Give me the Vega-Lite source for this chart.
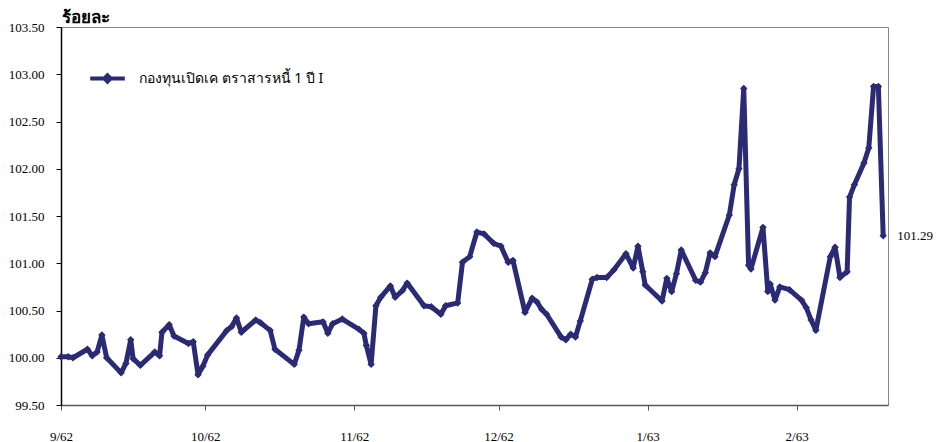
{
  "$schema": "https://vega.github.io/schema/vega-lite/v6.json",
  "width": 827,
  "height": 378,
  "autosize": {"type": "none"},
  "padding": {"left": 61, "top": 27, "right": 55, "bottom": 37},
  "background": "white",
  "data": {
    "values": [
      {"date": "2019-09-01T00:00", "nav": 100.01},
      {"date": "2019-09-02T12:00", "nav": 100.01},
      {"date": "2019-09-03T12:00", "nav": 100.00},
      {"date": "2019-09-06T12:00", "nav": 100.09},
      {"date": "2019-09-07T12:00", "nav": 100.02},
      {"date": "2019-09-08T12:00", "nav": 100.06},
      {"date": "2019-09-09T12:00", "nav": 100.24},
      {"date": "2019-09-10T12:00", "nav": 100.00},
      {"date": "2019-09-13T12:00", "nav": 99.84},
      {"date": "2019-09-14T12:00", "nav": 99.94},
      {"date": "2019-09-15T12:00", "nav": 100.19},
      {"date": "2019-09-16T00:00", "nav": 99.99},
      {"date": "2019-09-17T12:00", "nav": 99.92},
      {"date": "2019-09-20T12:00", "nav": 100.06},
      {"date": "2019-09-21T12:00", "nav": 100.02},
      {"date": "2019-09-22T00:00", "nav": 100.27},
      {"date": "2019-09-23T12:00", "nav": 100.35},
      {"date": "2019-09-24T12:00", "nav": 100.23},
      {"date": "2019-09-27T12:00", "nav": 100.15},
      {"date": "2019-09-28T12:00", "nav": 100.17},
      {"date": "2019-09-29T12:00", "nav": 99.82},
      {"date": "2019-09-30T12:00", "nav": 99.91},
      {"date": "2019-10-01T12:00", "nav": 100.03},
      {"date": "2019-10-05T12:00", "nav": 100.29},
      {"date": "2019-10-06T12:00", "nav": 100.33},
      {"date": "2019-10-07T12:00", "nav": 100.42},
      {"date": "2019-10-08T12:00", "nav": 100.27},
      {"date": "2019-10-11T12:00", "nav": 100.40},
      {"date": "2019-10-12T12:00", "nav": 100.37},
      {"date": "2019-10-14T12:00", "nav": 100.29},
      {"date": "2019-10-15T12:00", "nav": 100.09},
      {"date": "2019-10-19T12:00", "nav": 99.93},
      {"date": "2019-10-20T12:00", "nav": 100.08},
      {"date": "2019-10-21T12:00", "nav": 100.43},
      {"date": "2019-10-22T12:00", "nav": 100.36},
      {"date": "2019-10-25T12:00", "nav": 100.38},
      {"date": "2019-10-26T12:00", "nav": 100.26},
      {"date": "2019-10-27T12:00", "nav": 100.36},
      {"date": "2019-10-29T12:00", "nav": 100.41},
      {"date": "2019-11-02T00:00", "nav": 100.30},
      {"date": "2019-11-03T00:00", "nav": 100.26},
      {"date": "2019-11-03T12:00", "nav": 100.13},
      {"date": "2019-11-04T12:00", "nav": 99.93},
      {"date": "2019-11-05T12:00", "nav": 100.55},
      {"date": "2019-11-06T12:00", "nav": 100.64},
      {"date": "2019-11-08T12:00", "nav": 100.76},
      {"date": "2019-11-09T12:00", "nav": 100.64},
      {"date": "2019-11-11T00:00", "nav": 100.71},
      {"date": "2019-11-12T00:00", "nav": 100.79},
      {"date": "2019-11-15T12:00", "nav": 100.55},
      {"date": "2019-11-17T00:00", "nav": 100.54},
      {"date": "2019-11-19T00:00", "nav": 100.46},
      {"date": "2019-11-20T00:00", "nav": 100.55},
      {"date": "2019-11-22T12:00", "nav": 100.58},
      {"date": "2019-11-23T12:00", "nav": 101.01},
      {"date": "2019-11-25T00:00", "nav": 101.07},
      {"date": "2019-11-26T12:00", "nav": 101.33},
      {"date": "2019-11-28T00:00", "nav": 101.31},
      {"date": "2019-11-30T00:00", "nav": 101.21},
      {"date": "2019-12-01T12:00", "nav": 101.18},
      {"date": "2019-12-03T00:00", "nav": 101.01},
      {"date": "2019-12-04T00:00", "nav": 101.03},
      {"date": "2019-12-06T12:00", "nav": 100.48},
      {"date": "2019-12-08T00:00", "nav": 100.63},
      {"date": "2019-12-09T00:00", "nav": 100.59},
      {"date": "2019-12-10T00:00", "nav": 100.51},
      {"date": "2019-12-11T00:00", "nav": 100.46},
      {"date": "2019-12-14T00:00", "nav": 100.22},
      {"date": "2019-12-15T00:00", "nav": 100.19},
      {"date": "2019-12-16T00:00", "nav": 100.25},
      {"date": "2019-12-17T00:00", "nav": 100.22},
      {"date": "2019-12-18T00:00", "nav": 100.39},
      {"date": "2019-12-20T12:00", "nav": 100.83},
      {"date": "2019-12-21T12:00", "nav": 100.85},
      {"date": "2019-12-23T12:00", "nav": 100.85},
      {"date": "2019-12-25T00:00", "nav": 100.93},
      {"date": "2019-12-27T12:00", "nav": 101.10},
      {"date": "2019-12-29T00:00", "nav": 100.95},
      {"date": "2019-12-30T00:00", "nav": 101.18},
      {"date": "2019-12-31T00:00", "nav": 100.91},
      {"date": "2019-12-31T12:00", "nav": 100.77},
      {"date": "2020-01-04T00:00", "nav": 100.60},
      {"date": "2020-01-05T00:00", "nav": 100.84},
      {"date": "2020-01-06T00:00", "nav": 100.70},
      {"date": "2020-01-07T00:00", "nav": 100.89},
      {"date": "2020-01-08T00:00", "nav": 101.14},
      {"date": "2020-01-11T00:00", "nav": 100.82},
      {"date": "2020-01-12T00:00", "nav": 100.80},
      {"date": "2020-01-13T00:00", "nav": 100.90},
      {"date": "2020-01-14T00:00", "nav": 101.11},
      {"date": "2020-01-15T00:00", "nav": 101.07},
      {"date": "2020-01-18T00:00", "nav": 101.51},
      {"date": "2020-01-19T00:00", "nav": 101.83},
      {"date": "2020-01-20T00:00", "nav": 102.00},
      {"date": "2020-01-21T00:00", "nav": 102.85},
      {"date": "2020-01-22T00:00", "nav": 100.98},
      {"date": "2020-01-22T12:00", "nav": 100.94},
      {"date": "2020-01-25T00:00", "nav": 101.38},
      {"date": "2020-01-26T00:00", "nav": 100.70},
      {"date": "2020-01-26T12:00", "nav": 100.78},
      {"date": "2020-01-27T12:00", "nav": 100.61},
      {"date": "2020-01-28T12:00", "nav": 100.75},
      {"date": "2020-01-30T12:00", "nav": 100.72},
      {"date": "2020-02-02T00:00", "nav": 100.61},
      {"date": "2020-02-03T00:00", "nav": 100.53},
      {"date": "2020-02-04T00:00", "nav": 100.40},
      {"date": "2020-02-05T00:00", "nav": 100.29},
      {"date": "2020-02-08T00:00", "nav": 101.07},
      {"date": "2020-02-09T00:00", "nav": 101.17},
      {"date": "2020-02-10T00:00", "nav": 100.85},
      {"date": "2020-02-11T12:00", "nav": 100.91},
      {"date": "2020-02-12T00:00", "nav": 101.70},
      {"date": "2020-02-13T00:00", "nav": 101.83},
      {"date": "2020-02-15T00:00", "nav": 102.06},
      {"date": "2020-02-16T00:00", "nav": 102.22},
      {"date": "2020-02-17T00:00", "nav": 102.87},
      {"date": "2020-02-18T00:00", "nav": 102.87},
      {"date": "2020-02-19T00:00", "nav": 101.29}
    ]
  },
  "encoding": {
    "x": {
      "field": "date",
      "type": "temporal",
      "title": null,
      "scale": {
        "domain": [
          {"year": 2019, "month": 9, "date": 1},
          {"year": 2020, "month": 2, "date": 20}
        ]
      },
      "axis": {
        "tickCount": {"interval": "month", "step": 1},
        "labelExpr": "(month(datum.value) + 1) + '/' + ((year(datum.value) + 543) % 100)",
        "grid": false,
        "tickSize": 5,
        "tickColor": "#555",
        "domainColor": "#555",
        "domainWidth": 1.5,
        "labelPadding": 20,
        "labelAlign": "center",
        "labelFlush": false,
        "labelOverlap": false,
        "labelFont": "Liberation Serif",
        "labelFontSize": 13,
        "labelColor": "#000"
      }
    },
    "y": {
      "field": "nav",
      "type": "quantitative",
      "scale": {"domain": [99.5, 103.5], "nice": false, "zero": false},
      "axis": {
        "values": [99.5, 100, 100.5, 101, 101.5, 102, 102.5, 103, 103.5],
        "format": ".2f",
        "grid": false,
        "tickSize": 5,
        "tickColor": "#000",
        "domainColor": "#000",
        "domainWidth": 1.5,
        "labelPadding": 12,
        "labelFont": "Liberation Serif",
        "labelFontSize": 13,
        "labelColor": "#000",
        "title": "ร้อยละ",
        "titleAngle": 0,
        "titleX": 0,
        "titleY": -5,
        "titleAlign": "left",
        "titleBaseline": "alphabetic",
        "titleFont": "Noto Sans",
        "titleFontSize": 17,
        "titleFontWeight": "bold",
        "titleColor": "#000"
      }
    }
  },
  "layer": [
    {
      "mark": {
        "type": "line",
        "strokeWidth": 5,
        "strokeJoin": "round",
        "point": {"shape": "diamond", "size": 55, "filled": true, "color": "#2a2b74"}
      },
      "encoding": {
        "color": {
          "datum": "กองทุนเปิดเค ตราสารหนี้ 1 ปี I",
          "type": "nominal",
          "scale": {"range": ["#2a2b74"]},
          "legend": {
            "title": null,
            "orient": "none",
            "legendX": 27,
            "legendY": 32,
            "symbolType": "M-1,0H1M-0.18,0L0,-0.18L0.18,0L0,0.18Z",
            "symbolSize": 1200,
            "symbolStrokeWidth": 4,
            "symbolStrokeColor": "#2a2b74",
            "symbolFillColor": "#2a2b74",
            "labelFont": "Noto Sans",
            "labelFontSize": 14,
            "labelLimit": 0,
            "labelColor": "#000",
            "labelOffset": 12
          }
        }
      }
    },
    {
      "transform": [
        {"joinaggregate": [{"op": "max", "field": "date", "as": "lastDate"}]},
        {"filter": "datum.date == datum.lastDate"}
      ],
      "mark": {
        "type": "text",
        "align": "left",
        "baseline": "middle",
        "dx": 14,
        "font": "Liberation Serif",
        "fontSize": 13,
        "color": "#000"
      },
      "encoding": {
        "text": {"field": "nav", "type": "quantitative", "format": ".2f"}
      }
    }
  ],
  "config": {
    "view": {"stroke": "#888", "strokeWidth": 1}
  }
}
